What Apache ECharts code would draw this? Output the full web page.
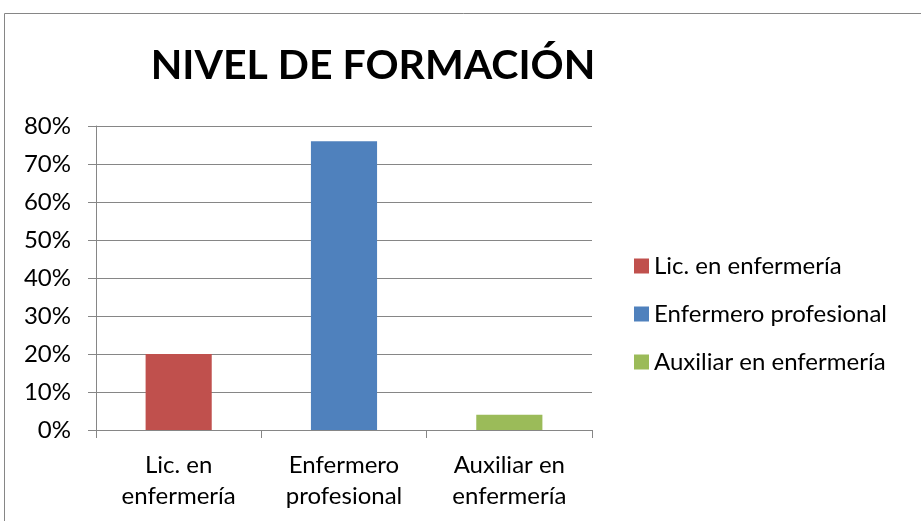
<!DOCTYPE html>
<html>
<head>
<meta charset="utf-8">
<script src="https://cdn.jsdelivr.net/npm/echarts@6/dist/echarts.min.js"></script>
<style>
html, body { margin: 0; padding: 0; background: #fff; }
#main { width: 921px; height: 521px; }
</style>
</head>
<body>
<div id="main"></div>
<script>
// datos del gráfico
var categorias = ['Lic. en\nenfermería', 'Enfermero\nprofesional', 'Auxiliar en\nenfermería'];
var nombres = ['Lic. en enfermería', 'Enfermero profesional', 'Auxiliar en enfermería'];
var valores = [0.20, 0.76, 0.04];
var colores = ['#C0504D', '#4F81BD', '#9BBB59'];
var ticksY = [0, 0.8, 0.1];

var chart = echarts.init(document.getElementById('main'));
var gris = '#868686';
var fuente = 'Lato';

// una serie por categoría, apiladas para que queden centradas
var series = nombres.map(function (n, i) {
    var d = categorias.map(function (c, j) { return j === i ? valores[i] : '-'; });
    return {
        name: n,
        type: 'bar',
        stack: 'total',
        barWidth: '40%',
        data: d,
        itemStyle: { color: colores[i] }
    };
});

var option = {
    backgroundColor: '#fff',
    animation: false,
    title: {
        text: 'NIVEL DE FORMACIÓN',
        left: 368,
        top: 40,
        textAlign: 'center',
        textStyle: { fontFamily: fuente, fontWeight: 'bold', fontSize: 41, color: '#000' }
    },
    graphic: [{
        type: 'rect',
        shape: { x: 4.5, y: 13.5, width: 1000, height: 1000 },
        style: { fill: 'none', stroke: gris, lineWidth: 1 }
    }],
    legend: {
        orient: 'vertical',
        left: 629,
        top: 249,
        itemWidth: 15,
        itemHeight: 15,
        itemGap: 24,
        icon: 'rect',
        data: nombres,
        textStyle: { fontFamily: fuente, fontSize: 24, color: '#000' }
    },
    grid: { left: 96, right: 329, top: 126, bottom: 91 },
    xAxis: {
        type: 'category',
        data: categorias,
        axisLine: { lineStyle: { color: gris, width: 1 } },
        axisTick: { show: true, length: 8, lineStyle: { color: gris } },
        axisLabel: { fontFamily: fuente, fontSize: 24, color: '#000', lineHeight: 31, margin: 20 }
    },
    yAxis: {
        type: 'value',
        min: ticksY[0],
        max: ticksY[1],
        interval: ticksY[2],
        axisLine: { show: true, lineStyle: { color: gris, width: 1 } },
        axisTick: { show: true, length: 8, lineStyle: { color: gris } },
        splitLine: { lineStyle: { color: gris, width: 1 } },
        axisLabel: {
            fontFamily: fuente, fontSize: 24, color: '#000', margin: 25,
            formatter: function (v) { return Math.round(v * 100) + '%'; }
        }
    },
    series: series
};
chart.setOption(option);
</script>
</body>
</html>
